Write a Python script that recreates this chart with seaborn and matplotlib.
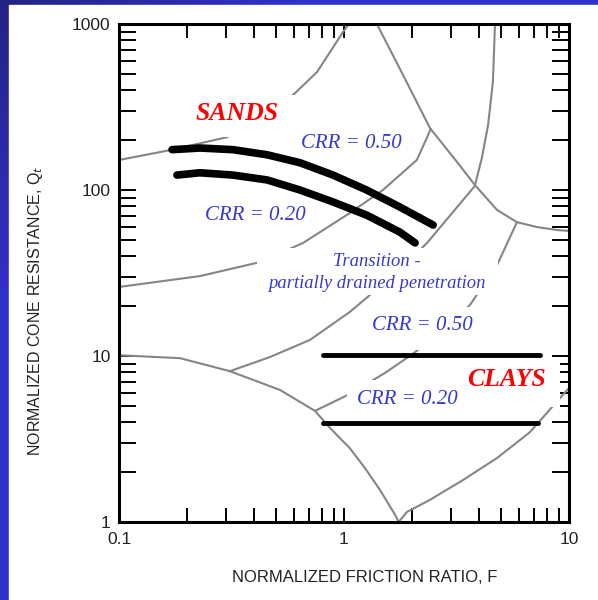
import numpy as np
import matplotlib
matplotlib.use("Agg")
import matplotlib.pyplot as plt
import seaborn as sns
from matplotlib.patches import Rectangle
from matplotlib.ticker import LogLocator, NullFormatter, FixedLocator, FixedFormatter

# ---- Soil behaviour type boundaries (F = normalized friction ratio %, Qt = normalized cone resistance)
zone1_F = [0.101, 0.187, 0.311, 0.52, 0.743, 0.867, 1.06, 1.24, 1.445, 1.69, 1.75]
zone1_Q = [10.1, 9.7, 8.1, 6.24, 4.67, 3.68, 2.79, 2.11, 1.56, 1.10, 1.0]

zone2_F = [1.75, 1.905, 2.41, 3.38, 4.79, 6.71, 9.12, 10.0]
zone2_Q = [1.0, 1.15, 1.36, 1.79, 2.43, 3.48, 5.58, 6.41]

gravel_F = [0.101, 0.169, 0.302, 0.424, 0.593, 0.759, 0.99, 1.05]
gravel_Q = [152, 174, 208, 272, 373, 514, 895, 1000]

sand_F = [0.101, 0.229, 0.424, 0.658, 1.06, 1.49, 2.11, 2.43]
sand_Q = [26.1, 30.3, 36.8, 48, 72.6, 100, 152, 233]

stiff_F = [1.40, 1.83, 2.41, 3.18, 3.82, 4.79, 5.87, 7.21, 8.85, 10.0]
stiff_Q = [1000, 493, 236, 147.5, 107, 75.8, 64, 59.8, 57.4, 56.7]

split_F = [4.69, 4.59, 4.37, 4.10, 3.82]
split_Q = [1000, 448, 247, 156, 107]

mix_F = [0.311, 0.469, 0.706, 1.06, 1.77, 2.34, 3.82]
mix_Q = [8.1, 9.86, 12.5, 18.4, 33, 48, 106]

silt_F = [0.743, 1.06, 1.52, 1.96, 2.67, 3.63, 4.79, 5.87]
silt_Q = [4.67, 5.90, 7.90, 10.0, 13.6, 20.3, 35.3, 64]

# ---- Cyclic resistance ratio contours
sand50_F = [0.172, 0.229, 0.321, 0.455, 0.637, 0.894, 1.26, 1.77, 2.49]
sand50_Q = [175, 179, 175, 163, 146, 123, 100, 79, 61.5]
sand20_F = [0.181, 0.229, 0.321, 0.455, 0.637, 0.894, 1.26, 1.77, 2.07]
sand20_Q = [123, 127, 123, 115, 100, 84.7, 70.6, 55.8, 48]
clay50_F = [0.81, 7.4]
clay50_Q = [10.1, 10.1]
clay20_F = [0.81, 7.3]
clay20_Q = [3.95, 3.95]

x_ticks = [0.1, 1, 10]
x_labels = ["0.1", "1", "10"]
y_ticks = [1, 10, 100, 1000]
y_labels = ["1", "10", "100", "1000"]

sns.set_theme(style="ticks")
plt.rcParams["font.family"] = ["Liberation Sans", "DejaVu Sans"]

W, H = 598, 600
fig = plt.figure(figsize=(W / 100, H / 100), dpi=100)

# slide backdrop: blue gradient with a white panel
bg = fig.add_axes([0, 0, 1, 1], zorder=-10)
bg.set_axis_off()
yy, xx = np.mgrid[0:H, 0:W]
t = np.clip(np.hypot(xx / W, yy / H) / 0.5, 0, 1)[..., None]
dark = np.array([0.14, 0.14, 0.52])
bright = np.array([0.19, 0.19, 0.80])
bg.imshow(dark * (1 - t) + bright * t, extent=[0, 1, 0, 1], aspect="auto")
bg.add_patch(Rectangle((9 / W, 0), 1, 1 - 5 / H, color="white"))
bg.set_xlim(0, 1)
bg.set_ylim(0, 1)

ax = fig.add_axes([119 / W, 78 / H, 450 / W, 498 / H])
ax.set_xscale("log")
ax.set_yscale("log")
ax.set_xlim(0.1, 10)
ax.set_ylim(1, 1000)
ax.set_facecolor("white")

grey = "#858585"
for fx, qy in [(zone1_F, zone1_Q), (zone2_F, zone2_Q), (gravel_F, gravel_Q),
               (sand_F, sand_Q), (stiff_F, stiff_Q), (split_F, split_Q),
               (mix_F, mix_Q), (silt_F, silt_Q)]:
    sns.lineplot(x=fx, y=qy, sort=False, estimator=None, color=grey, lw=1.5, ax=ax, zorder=2)

# white label panels
def panel(x0, y0, x1, y1):
    ax.add_patch(Rectangle(((x0 - 119) / 450, (522 - y1) / 498), (x1 - x0) / 450, (y1 - y0) / 498,
                           transform=ax.transAxes, facecolor="white", edgecolor="none", zorder=3))

panel(185, 95, 300, 137)
panel(257, 248, 498, 295)
panel(362, 307, 560, 350)
panel(463, 363, 560, 407)
panel(347, 380, 463, 418)

for fx, qy, lw in [(sand50_F, sand50_Q, 5.5), (sand20_F, sand20_Q, 5.5),
                   (clay50_F, clay50_Q, 3.5), (clay20_F, clay20_Q, 3.5)]:
    sns.lineplot(x=fx, y=qy, sort=False, estimator=None, color="black", lw=lw, ax=ax, zorder=4)
for line in ax.lines:
    line.set_solid_capstyle("round")

blue = "#3838cc"
serif = ["Liberation Serif", "DejaVu Serif"]
def label(px, py, s, **kw):
    ax.text((px - 119) / 450, (522 - py) / 498, s, transform=ax.transAxes, ha="center", va="center",
            family=serif, style="italic", zorder=5, **kw)

label(237, 114, "SANDS", color="red", fontsize=18.5, weight="bold")
label(507, 379, "CLAYS", color="red", fontsize=18.5, weight="bold")
label(351, 143, "CRR = 0.50", color=blue, fontsize=15)
label(255, 215, "CRR = 0.20", color=blue, fontsize=15)
label(422, 326, "CRR = 0.50", color=blue, fontsize=15)
label(407, 399, "CRR = 0.20", color=blue, fontsize=15)
label(377, 262, "Transition -", color=blue, fontsize=13.4)
label(377, 284, "partially drained penetration", color=blue, fontsize=13.4)

# axes frame and ticks
for sp in ax.spines.values():
    sp.set_linewidth(2.2)
    sp.set_color("black")
    sp.set_zorder(6)
ax.xaxis.set_major_locator(FixedLocator(x_ticks))
ax.xaxis.set_major_formatter(FixedFormatter(x_labels))
ax.yaxis.set_major_locator(FixedLocator(y_ticks))
ax.yaxis.set_major_formatter(FixedFormatter(y_labels))
ax.xaxis.set_minor_locator(LogLocator(base=10, subs=np.arange(2, 10)))
ax.yaxis.set_minor_locator(LogLocator(base=10, subs=np.arange(2, 10)))
ax.xaxis.set_minor_formatter(NullFormatter())
ax.yaxis.set_minor_formatter(NullFormatter())
ax.tick_params(axis="x", which="both", direction="in", top=True, bottom=True, length=10, width=1.4,
               color="black", labelsize=12.5, pad=7, labelcolor="#222222")
ax.tick_params(axis="y", which="both", direction="in", left=True, right=True, length=12, width=1.4,
               color="black", labelsize=12.5, pad=6, labelcolor="#222222")
ax.grid(False)

fig.text(365 / W, 1 - 578 / H, "NORMALIZED FRICTION RATIO, F", ha="center", va="center",
         fontsize=12, color="#222222")
fig.text(36 / W, 1 - 311 / H, "NORMALIZED CONE RESISTANCE, Q$_t$", ha="center", va="center",
         rotation=90, fontsize=11.5, color="#222222")

fig.savefig("out.png", dpi=100)
